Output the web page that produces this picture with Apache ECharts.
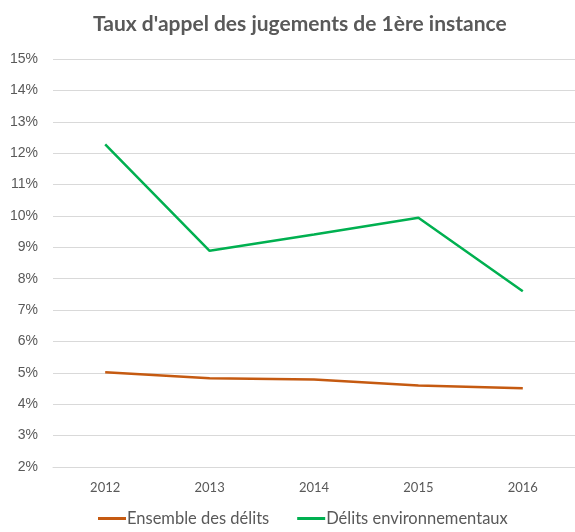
<!DOCTYPE html>
<html>
<head>
<meta charset="utf-8">
<script src="https://cdn.jsdelivr.net/npm/echarts@6/dist/echarts.min.js"></script>
<style>
  html, body { margin: 0; padding: 0; background: #fff; }
  #chart { width: 575px; height: 532px; }
</style>
</head>
<body>
<div id="chart"></div>
<script>
// données
var annees = ['2012', '2013', '2014', '2015', '2016'];
var ensembleDelits = [5.02, 4.83, 4.79, 4.60, 4.51];
var delitsEnvironnementaux = [12.28, 8.89, 9.41, 9.94, 7.60];

var chart = echarts.init(document.getElementById('chart'));
chart.setOption({
  animation: false,
  // titre
  title: {
    text: "Taux d'appel des jugements de 1ère instance",
    left: 88,
    top: 9,
    textStyle: { fontFamily: 'Lato', fontWeight: 'bold', fontSize: 21, color: '#595959' }
  },
  // légende en bas
  legend: {
    bottom: 0,
    left: 93,
    itemWidth: 28,
    itemHeight: 3,
    itemGap: 28,
    icon: 'rect',
    textStyle: { fontFamily: 'Lato', fontSize: 16.5, color: '#595959', padding: [0, 0, 0, -4] },
    data: ['Ensemble des délits', 'Délits environnementaux']
  },
  grid: { left: 53, right: 0, top: 59, bottom: 65 },
  xAxis: {
    type: 'category',
    data: annees,
    axisLine: { lineStyle: { color: '#d9d9d9' } },
    axisTick: { show: false },
    axisLabel: { fontFamily: 'Lato', fontSize: 13, color: '#595959', margin: 14 }
  },
  yAxis: {
    type: 'value',
    min: 2,
    max: 15,
    interval: 1,
    axisLine: { show: false },
    axisTick: { show: false },
    splitLine: { lineStyle: { color: '#d9d9d9', width: 1 } },
    axisLabel: {
      fontFamily: 'Liberation Sans', fontSize: 14, color: '#595959', margin: 15,
      formatter: function (v) { return v + '%'; }
    }
  },
  series: [
    {
      name: 'Ensemble des délits',
      type: 'line',
      data: ensembleDelits,
      symbol: 'none',
      lineStyle: { width: 2.5, color: '#C55A11' },
      itemStyle: { color: '#C55A11' }
    },
    {
      name: 'Délits environnementaux',
      type: 'line',
      data: delitsEnvironnementaux,
      symbol: 'none',
      lineStyle: { width: 2.5, color: '#00B050' },
      itemStyle: { color: '#00B050' }
    }
  ]
});
</script>
</body>
</html>
